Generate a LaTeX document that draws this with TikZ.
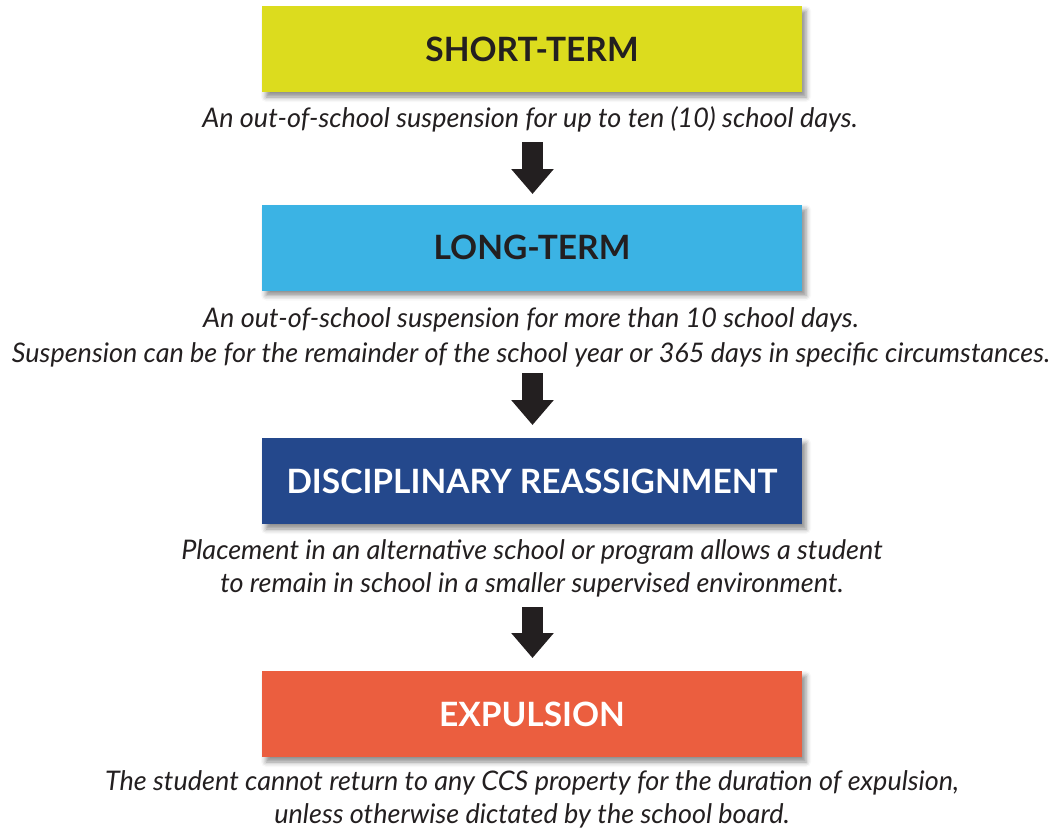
\documentclass[tikz,border=0pt]{standalone}
\usepackage{fontspec}
\setmainfont{Lato}
\usetikzlibrary{shadows.blur,arrows.meta}
\definecolor{cyel}{HTML}{DCDC1E}
\definecolor{ccyan}{HTML}{3BB3E4}
\definecolor{cblue}{HTML}{24488C}
\definecolor{cred}{HTML}{EB5E3F}
\definecolor{cink}{HTML}{231F20}
\tikzset{
  stagebox/.style={fill=#1, minimum width=540pt, minimum height=86pt, inner sep=0pt,
    font=\fontsize{33.5}{38}\selectfont\bfseries,
    blur shadow={shadow xshift=4pt, shadow yshift=-5pt, shadow blur radius=5pt, shadow opacity=45}},
  desc/.style={align=center, inner sep=0pt, text=cink, anchor=base, font=\fontsize{27}{33}\selectfont\itshape},
  blockarrow/.style={draw=cink, line width=21pt, -{Triangle[width=41pt,length=25pt]}}
}
\begin{document}
\begin{tikzpicture}[x=1pt,y=-1pt]
\useasboundingbox (0,0) rectangle (1059,831);
\node[stagebox=cyel, text=cink] (b1) at (532,49) {SHORT-TERM};
\node[desc] (t1) at (530,127) {An out-of-school suspension for up to ten (10) school days.};
\node[stagebox=ccyan, text=cink] (b2) at (532,247.5) {LONG-TERM};
\node[desc, font=\fontsize{27}{35}\selectfont\itshape] (t2) at (531,362) {An out-of-school suspension for more than 10 school days.\\Suspension can be for the remainder of the school year or 365 days in specific circumstances.};
\node[stagebox=cblue, text=white] (b3) at (532,481) {DISCIPLINARY REASSIGNMENT};
\node[desc] (t3) at (532,592) {Placement in an alternative school or program allows a student\\to remain in school in a smaller supervised environment.};
\node[stagebox=cred, text=white] (b4) at (532,714) {EXPULSION};
\node[desc] (t4) at (532,823) {The student cannot return to any CCS property for the duration of expulsion,\\unless otherwise dictated by the school board.};
\coordinate (a1s) at (532.5,142);
\coordinate (a1e) at (532.5,194);
\coordinate (a2s) at (532.5,373);
\coordinate (a2e) at (532.5,425);
\coordinate (a3s) at (532.5,607);
\coordinate (a3e) at (532.5,658);
\draw[blockarrow] (a1s) -- (a1e);
\draw[blockarrow] (a2s) -- (a2e);
\draw[blockarrow] (a3s) -- (a3e);
\end{tikzpicture}
\end{document}
